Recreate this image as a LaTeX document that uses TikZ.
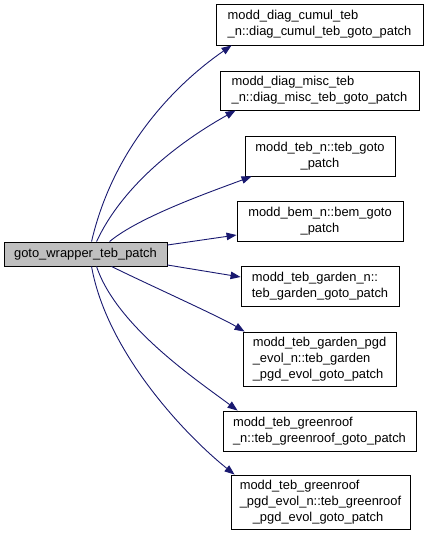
\documentclass[tikz,border=0pt]{standalone}
\usepackage{fontspec}
\setmainfont{Liberation Sans}
\usetikzlibrary{arrows.meta}
\definecolor{EdgeNavy}{RGB}{25,25,112}
\definecolor{CallerGray}{RGB}{191,191,191}

\begin{document}
\begin{tikzpicture}[x=1pt,y=-1pt,
    fnbox/.style={draw=black,line width=0.9pt,fill=white,inner sep=0pt,
      align=left,font=\fontsize{12.9}{16.2}\selectfont},
    call/.style={-{Triangle[length=10pt,width=7.5pt]},EdgeNavy,line width=0.9pt}]
  \useasboundingbox (0,0) rectangle (429,535);
  % caller
  \node[fnbox,fill=CallerGray,minimum width=163pt,minimum height=24pt]
    (main) at (85.5,254) {goto\_wrapper\_teb\_patch};
  % callees
  \node[fnbox,minimum width=207pt,minimum height=41pt] (diagcumul) at (319.5,24.5)
    {modd\_diag\_cumul\_teb\\\_n::diag\_cumul\_teb\_goto\_patch};
  \node[fnbox,minimum width=199pt,minimum height=39pt] (diagmisc) at (319.5,90.5)
    {modd\_diag\_misc\_teb\\\_n::diag\_misc\_teb\_goto\_patch};
  \node[fnbox,align=center,minimum width=150pt,minimum height=40pt] (teb) at (320,156)
    {modd\_teb\_n::teb\_goto\\\_patch};
  \node[fnbox,align=center,minimum width=166pt,minimum height=40pt] (bem) at (320,221)
    {modd\_bem\_n::bem\_goto\\\_patch};
  \node[fnbox,minimum width=158pt,minimum height=40pt] (garden) at (320,286)
    {modd\_teb\_garden\_n::\\teb\_garden\_goto\_patch};
  \node[fnbox,minimum width=153pt,minimum height=54pt] (gardenpgd) at (319.5,359)
    {modd\_teb\_garden\_pgd\\\_evol\_n::teb\_garden\\\_pgd\_evol\_goto\_patch};
  \node[fnbox,minimum width=193pt,minimum height=40pt] (greenroof) at (319.5,431)
    {modd\_teb\_greenroof\\\_n::teb\_greenroof\_goto\_patch};
  \node[fnbox,minimum width=179pt,minimum height=54pt] (greenroofpgd) at (320.5,502)
    {modd\_teb\_greenroof\\\_pgd\_evol\_n::teb\_greenroof\\\hspace*{13pt}\_pgd\_evol\_goto\_patch};
  % calls
  \draw[call] ([xshift=88pt]main.north west) .. controls +(22,-95) and +(-55,38) ..
    ([xshift=16pt]diagcumul.south west);
  \draw[call] ([xshift=93pt]main.north west) .. controls +(28,-60) and +(-50,28) ..
    ([xshift=16pt]diagmisc.south west);
  \draw[call] ([xshift=106pt]main.north west) .. controls +(30,-25) and +(-40,15) ..
    ([xshift=7pt]teb.south west);
  \draw[call] ([yshift=9pt]main.east) -- ([yshift=-14pt]bem.west);
  \draw[call] ([yshift=-11pt]main.east) -- ([yshift=9pt]garden.west);
  \draw[call] ([xshift=108pt]main.south west) .. controls +(30,15) and +(-25,-15) ..
    ([xshift=2pt]gardenpgd.north west);
  \draw[call] ([xshift=93pt]main.south west) .. controls +(20,60) and +(-40,-30) ..
    ([xshift=15pt]greenroof.north west);
  \draw[call] ([xshift=88pt]main.south west) .. controls +(15,85) and +(-50,-40) ..
    ([xshift=4pt]greenroofpgd.north west);
\end{tikzpicture}
\end{document}
